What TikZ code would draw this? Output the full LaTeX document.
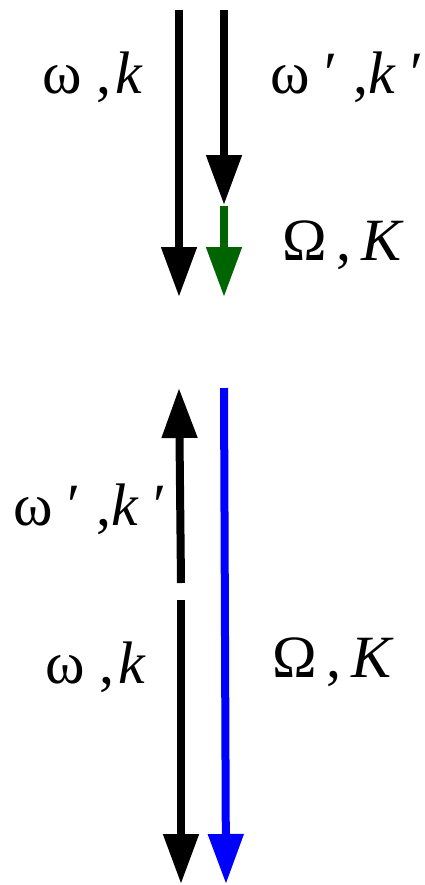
\documentclass[tikz,border=0pt]{standalone}
\usepackage{fontspec}
\setmainfont{Liberation Serif}
\usetikzlibrary{arrows.meta}
\definecolor{wvgreen}{RGB}{0,100,0}
\definecolor{wvblue}{RGB}{0,0,255}
\tikzset{
  wv label/.style={font=\fontsize{30}{31}\selectfont, inner sep=0pt, anchor=base west},
  wv arrow/.style={-{Triangle[length=25pt,width=17pt]}, line width=4pt, line cap=butt}
}
\begin{document}
\begin{tikzpicture}[x=0.5pt, y=-0.5pt]
  \useasboundingbox (0,0) rectangle (424,885);
  % upper process
  \coordinate (in top) at (179,10);
  \coordinate (in tip) at (179,297);
  \coordinate (out top) at (224,10);
  \coordinate (out tip) at (224,205);
  \coordinate (sum top) at (224,206);
  \coordinate (sum tip) at (224,297);
  \draw[wv arrow] (in top) -- (in tip);
  \draw[wv arrow] (out top) -- (out tip);
  \draw[wv arrow, draw=wvgreen, fill=wvgreen] (sum top) -- (sum tip);
  \node[wv label] (in lbl) at (42,93) {ω ,\kern2pt\textit{k}};
  \node[wv label] (out lbl) at (270,93) {ω ′ ,\textit{k} ′};
  \node[wv label] (sum lbl) at (282,260) {Ω\,,\,\textit{K}};
  % lower process
  \coordinate (back low) at (181,583);
  \coordinate (back tip) at (179,388);
  \coordinate (down top) at (181,600);
  \coordinate (down tip) at (181,884);
  \coordinate (blue top) at (224,388);
  \coordinate (blue tip) at (226,884);
  \draw[wv arrow] (back low) -- (back tip);
  \draw[wv arrow] (down top) -- (down tip);
  \draw[wv arrow, draw=wvblue, fill=wvblue] (blue top) -- (blue tip);
  \node[wv label] (back lbl) at (13,525) {ω ′ ,\textit{k} ′};
  \node[wv label] (down lbl) at (45,683) {ω ,\kern2pt\textit{k}};
  \node[wv label] (blue lbl) at (272,677) {Ω\,,\,\textit{K}};
\end{tikzpicture}
\end{document}
